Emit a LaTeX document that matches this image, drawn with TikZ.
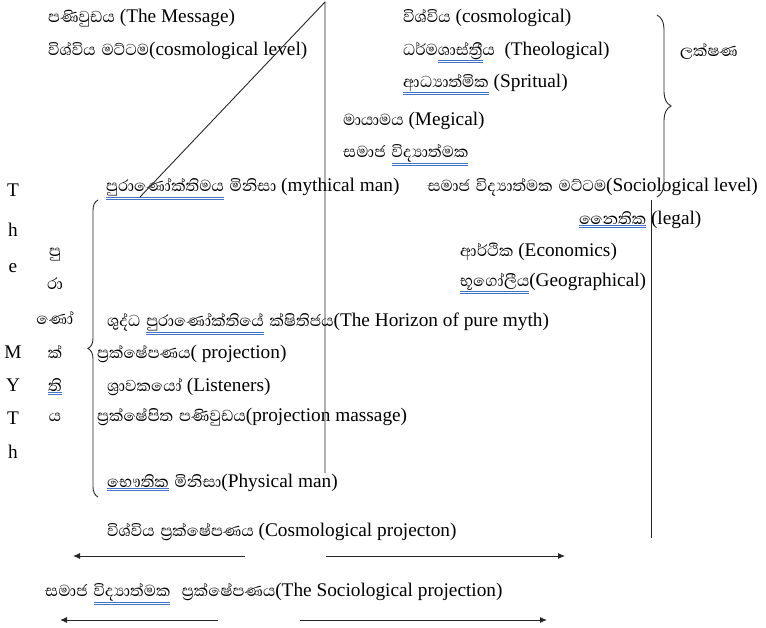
\documentclass[tikz,border=0pt]{standalone}
\usepackage{fontspec}
\setmainfont{Liberation Serif}
\newfontfamily\sinfont[Script=Sinhala,Scale=1.05,WordSpace=1.5]{Abhaya Libre}
\usetikzlibrary{arrows.meta, decorations.pathreplacing}
\definecolor{word-blue}{RGB}{68,114,196}
\newcommand{\sn}[1]{{\sinfont #1}}
\newcommand{\wul}[1]{{\color{word-blue}\underline{\underline{\color{black}#1}}}}

\begin{document}
\begin{tikzpicture}[x=1pt, y=-1pt,
  txt/.style={anchor=base west, inner sep=0pt, font=\fontsize{19.3}{23}\selectfont},
  letter/.style={anchor=base, inner sep=0pt, font=\fontsize{19.3}{23}\selectfont},
  rule/.style={draw=black!85, line width=0.9pt},
  arr/.style={rule, -{Latex[length=7pt, width=6pt]}},
  curly/.style={rule, decorate, decoration={brace, amplitude=#1}}]
  \useasboundingbox (0,0) rectangle (766,627);

  % cosmological level
  \node[txt] (msg) at (48,22) {\sn{පණිවුඩය} (The Message)};
  \node[txt] (coslvl) at (48,55) {\sn{විශ්විය මට්ටම}(cosmological level)};
  \node[txt] (cos) at (403,22) {\sn{විශ්විය} (cosmological)};
  \node[txt] (theo) at (403,55) {\sn{ධර්ම\wul{ශාස්ත්^^^^200dරී}ය}\ \ (Theological)};
  \node[txt] (spir) at (403,87) {\sn{\wul{ආධ්^^^^200dයාත්මික}} (Spritual)};
  \node[txt] (mag) at (343,125) {\sn{මායාමය} (Megical)};
  \node[txt] (socw) at (343,157) {\sn{සමාජ \wul{විද්^^^^200dයාත්මක}}};
  \node[txt] (lak) at (680,56) {\sn{ලක්ෂණ}};

  % sociological level
  \node[txt] (myth) at (106,191) {\sn{\wul{පුරාණෝක්තිමය} මිනිසා} (mythical man)\hspace{28pt}\sn{සමාජ විද්^^^^200dයාත්මක මට්ටම}(Sociological level)};
  \node[txt] (legal) at (579,224) {\sn{\wul{නෛතික}} (legal)};
  \node[txt] (econ) at (460,256) {\sn{ආර්ථික} (Economics)};
  \node[txt] (geo) at (460,286) {\sn{\wul{භූගෝලීය}}(Geographical)};

  % mythical man
  \node[txt] (hor) at (107,326) {\sn{ශුද්ධ \wul{පුරාණෝක්තියේ} ක්ෂිතිජය}(The Horizon of pure myth)};
  \node[txt] (proj) at (97,358) {\sn{ප්^^^^200dරක්ෂේපණය}( projection)};
  \node[txt] (lis) at (107,391) {\sn{ශ්^^^^200dරාවකයෝ} (Listeners)};
  \node[txt] (pmsg) at (97,421) {\sn{ප්^^^^200dරක්ෂේපිත පණිවුඩය}(projection massage)};
  \node[txt] (phys) at (107,487) {\sn{\wul{භෞතික} මිනිසා}(Physical man)};

  % projections
  \node[txt] (cproj) at (107,536) {\sn{විශ්විය ප්^^^^200dරක්ෂේපණය} (Cosmological projecton)};
  \node[txt] (sproj) at (45,596) {\sn{සමාජ \wul{විද්^^^^200dයාත්මක}\ \ ප්^^^^200dරක්ෂේපණය}(The Sociological projection)};

  % The MYTh
  \node[letter] (l1) at (13,196) {T};
  \node[letter] (l2) at (13,236) {h};
  \node[letter] (l3) at (13,272) {e};
  \node[letter] (l4) at (13,358) {M};
  \node[letter] (l5) at (13,391) {Y};
  \node[letter] (l6) at (13,424) {T};
  \node[letter] (l7) at (13,458) {h};
  \node[letter] (s1) at (55,256) {\sn{පු}};
  \node[letter] (s2) at (55,289) {\sn{රා}};
  \node[letter] (s3) at (55,324) {\sn{ණෝ}};
  \node[letter] (s4) at (55,358) {\sn{ක්}};
  \node[letter] (s5) at (55,391) {\sn{\wul{ති}}};
  \node[letter] (s6) at (55,421) {\sn{ය}};

  % triangle
  \coordinate (apex) at (325,2);
  \coordinate (diag foot) at (140,197);
  \coordinate (mid foot) at (325,473);
  \draw[rule] (diag foot) -- (apex) -- (mid foot);

  % sociological line
  \coordinate (soc top) at (651,200);
  \coordinate (soc foot) at (651,538);
  \draw[rule] (soc top) -- (soc foot);

  % braces
  \coordinate (rb top) at (657,15);
  \coordinate (rb foot) at (657,197);
  \draw[curly=14pt] (rb top) -- (rb foot);
  \coordinate (lb top) at (98,200);
  \coordinate (lb foot) at (98,497);
  \draw[curly=10pt] (lb foot) -- (lb top);

  % arrows
  \coordinate (a1) at (245,556);
  \coordinate (a1 tip) at (73,556);
  \coordinate (a2) at (326,556);
  \coordinate (a2 tip) at (565,556);
  \draw[arr] (a1) -- (a1 tip);
  \draw[arr] (a2) -- (a2 tip);
  \coordinate (b1) at (218,620);
  \coordinate (b1 tip) at (60,620);
  \coordinate (b2) at (300,620);
  \coordinate (b2 tip) at (547,620);
  \draw[arr] (b1) -- (b1 tip);
  \draw[arr] (b2) -- (b2 tip);
\end{tikzpicture}
\end{document}
